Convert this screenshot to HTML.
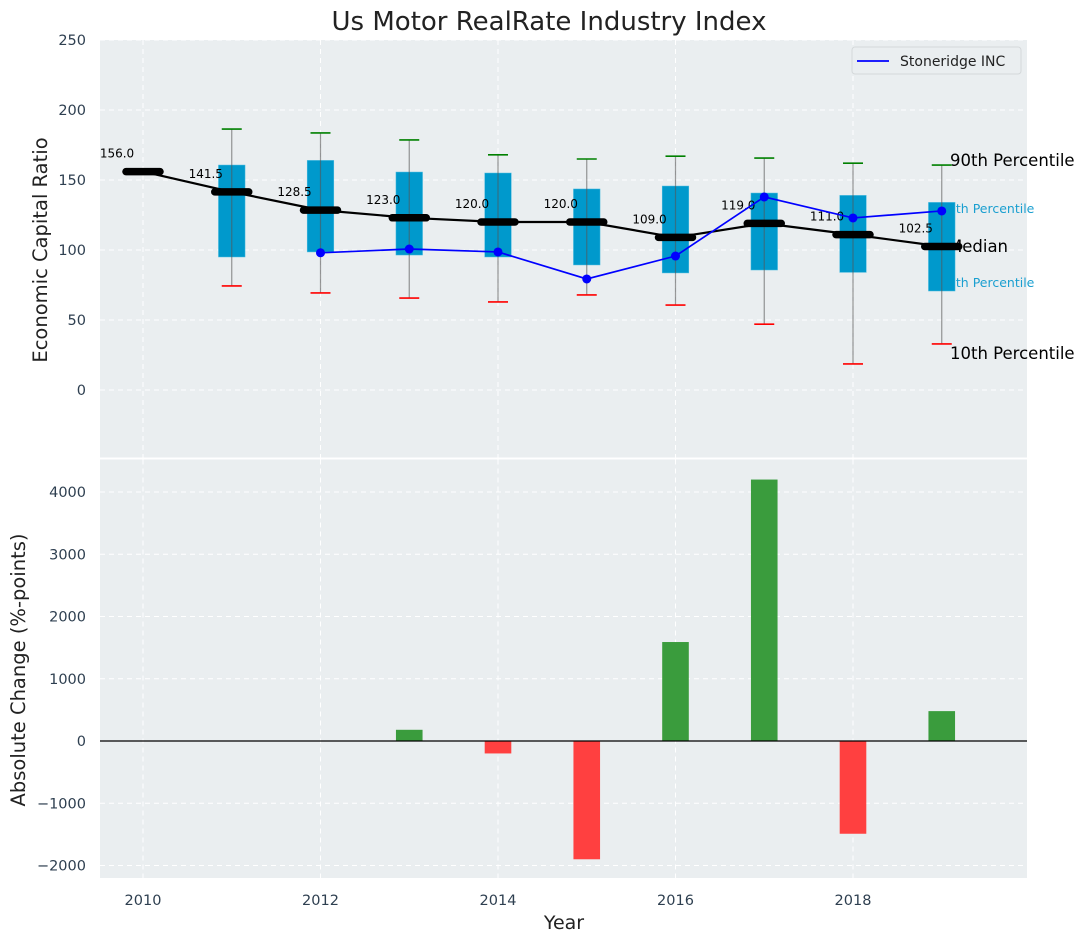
<!DOCTYPE html>
<html><head><meta charset="utf-8"><style>
body{margin:0;background:#fff;font-family:"DejaVu Sans","Liberation Sans",sans-serif}
svg text{font-family:"DejaVu Sans","Liberation Sans",sans-serif}
</style></head><body>
<svg id="c" width="1085" height="942" xmlns="http://www.w3.org/2000/svg"></svg>
<script>
const years=[2010,2011,2012,2013,2014,2015,2016,2017,2018,2019];
const medians=[156.0,141.5,128.5,123.0,120.0,120.0,109.0,119.0,111.0,102.5];
const p90=[null,186.4,183.6,178.6,168,165,167,165.7,162,160.7];
const p75=[null,160.7,164,155.7,155,143.6,145.7,140.7,139,134];
const p25=[null,95,98.6,96.4,95,89.3,83.6,85.7,84,70.7];
const p10=[null,74.3,69.3,65.7,62.9,67.9,60.7,47,18.6,32.9];
const stoneridge=[null,null,98,100.7,98.6,79.3,95.7,137.9,122.9,127.9];
const changes=[0,0,0,180,-200,-1900,1590,4200,-1490,480];
const topTicks=[0,50,100,150,200,250];
const botTicks=[-2000,-1000,0,1000,2000,3000,4000];
const xTicks=[2010,2012,2014,2016,2018];

const NS="http://www.w3.org/2000/svg";
const svg=document.getElementById('c');
function el(tag,attrs,parent,text){const e=document.createElementNS(NS,tag);for(const k in attrs)e.setAttribute(k,attrs[k]);if(text!==undefined)e.textContent=text;(parent||svg).appendChild(e);return e;}
const L=100,R=1027;
const X=v=>143+(v-2010)*88.75;
const Yt=v=>390-v*1.4;
const Yb=v=>741-v*0.06225;
const T1=40,B1=457.5,T2=459.5,B2=878;

let e;
e=el('rect',{x:L,y:T1,width:R-L,height:B1-T1,fill:'#eaeef0'});

e=el('rect',{x:L,y:T2,width:R-L,height:B2-T2,fill:'#eaeef0'});


xTicks.forEach(t=>{
  el('line',{x1:X(t),x2:X(t),y1:T1,y2:B1,stroke:'#fff','stroke-dasharray':'5,4','stroke-width':1});
  el('line',{x1:X(t),x2:X(t),y1:T2,y2:B2,stroke:'#fff','stroke-dasharray':'5,4','stroke-width':1});
  e=el('text',{x:X(t),y:905,'text-anchor':'middle','font-size':14.5,fill:'#2e3f50'},null,t);
  
});
topTicks.forEach(t=>{
  el('line',{x1:L,x2:R,y1:Yt(t),y2:Yt(t),stroke:'#fff','stroke-dasharray':'5,4'});
  e=el('text',{x:86,y:Yt(t)+5,'text-anchor':'end','font-size':14.5,fill:'#2e3f50'},null,t);
  
});
botTicks.forEach(t=>{
  el('line',{x1:L,x2:R,y1:Yb(t),y2:Yb(t),stroke:'#fff','stroke-dasharray':'5,4'});
  e=el('text',{x:86,y:Yb(t)+5,'text-anchor':'end','font-size':14.5,fill:'#2e3f50'},null,t<0?'\u2212'+(-t):t);
  
});

const lx=950;
e=el('text',{x:lx,y:Yt(p90[9])+1,'font-size':16.5,fill:'#000'},null,'90th Percentile');

e=el('text',{x:lx-10,y:213,'font-size':12.5,fill:'#1a9fd0'},null,'75th Percentile');

e=el('text',{x:lx-10,y:287,'font-size':12.5,fill:'#1a9fd0'},null,'25th Percentile');

e=el('text',{x:lx-2,y:252,'font-size':16.5,fill:'#000'},null,'Median');

e=el('text',{x:lx,y:359,'font-size':16.5,fill:'#000'},null,'10th Percentile');


years.forEach((y,i)=>{
  if(p90[i]==null)return;
  const cx=X(y),w=26.6;
  e=el('rect',{x:cx-w/2,y:Yt(p75[i]),width:w,height:Yt(p25[i])-Yt(p75[i]),fill:'#0099cc',stroke:'#4fbde0','stroke-width':0.5});
  
  e=el('line',{x1:cx,x2:cx,y1:Yt(p90[i]),y2:Yt(p10[i]),stroke:'#555','stroke-opacity':0.6,'stroke-width':1.2});
  
  e=el('line',{x1:cx-10,x2:cx+10,y1:Yt(p90[i]),y2:Yt(p90[i]),stroke:'green','stroke-width':1.6});
  
  e=el('line',{x1:cx-10,x2:cx+10,y1:Yt(p10[i]),y2:Yt(p10[i]),stroke:'red','stroke-width':1.6});
  
});

e=el('polyline',{points:years.map((y,i)=>X(y)+','+Yt(medians[i])).join(' '),fill:'none',stroke:'#000','stroke-width':2.2});

years.forEach((y,i)=>{
  e=el('line',{x1:X(y)-17,x2:X(y)+17,y1:Yt(medians[i]),y2:Yt(medians[i]),stroke:'#000','stroke-width':7.5,'stroke-linecap':'round'});
  
  e=el('text',{x:X(y)-26,y:Yt(medians[i])-14,'text-anchor':'middle','font-size':12,fill:'#000'},null,medians[i].toFixed(1));
  
});

const pts=[];years.forEach((y,i)=>{if(stoneridge[i]!=null)pts.push([X(y),Yt(stoneridge[i])]);});
e=el('polyline',{points:pts.map(p=>p.join(',')).join(' '),fill:'none',stroke:'#0000ff','stroke-width':1.7});

pts.forEach(p=>{e=el('circle',{cx:p[0],cy:p[1],r:4.5,fill:'#0000ff'});
  });

const lg=el('g',{});

el('rect',{x:852,y:47,width:169,height:27,rx:3,fill:'#eaeef0',stroke:'#d4d8da'},lg);
el('line',{x1:857,x2:889,y1:61,y2:61,stroke:'#0000ff','stroke-width':1.7},lg);
e=el('text',{x:900,y:66,'font-size':14,fill:'#222'},lg,'Stoneridge INC');


years.forEach((y,i)=>{
  const v=changes[i]; if(v===0)return;
  const y0=Yb(Math.max(v,0)),y1=Yb(Math.min(v,0));
  e=el('rect',{x:X(y)-13.3,y:y0,width:26.6,height:y1-y0,fill:v>0?'#3a9c3d':'#ff4040'});
  
});
e=el('line',{x1:L,x2:R,y1:Yb(0),y2:Yb(0),stroke:'#000','stroke-width':1.2});


e=el('text',{x:549,y:30,'text-anchor':'middle','font-size':26,fill:'#222'},null,'Us Motor RealRate Industry Index');

e=el('text',{x:564,y:929,'text-anchor':'middle','font-size':19,fill:'#222'},null,'Year');

e=el('text',{x:0,y:0,'text-anchor':'middle','font-size':19.5,fill:'#222',transform:'translate(47,250) rotate(-90)'},null,'Economic Capital Ratio');

e=el('text',{x:0,y:0,'text-anchor':'middle','font-size':19.5,fill:'#222',transform:'translate(25,670) rotate(-90)'},null,'Absolute Change (%-points)');

</script>
</body></html>
